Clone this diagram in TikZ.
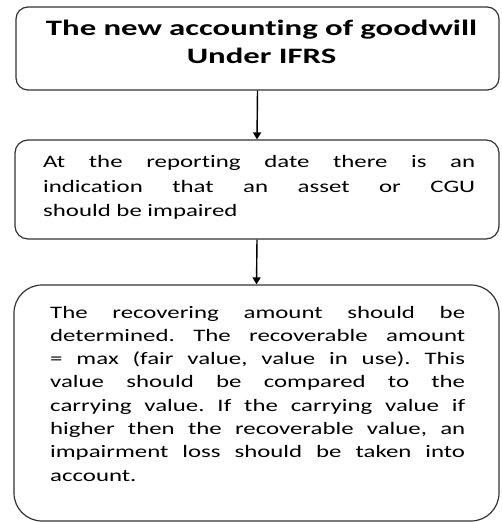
\documentclass[tikz,border=0pt]{standalone}
\usepackage{fontspec}
\newfontfamily\titlefont[FakeStretch=1.49, Ligatures=NoCommon]{Carlito}
\newfontfamily\bodyfont[FakeStretch=1.42, Ligatures=NoCommon]{Carlito}
\usetikzlibrary{arrows.meta}
\begin{document}
\frenchspacing
\begin{tikzpicture}[x=1pt,y=-1pt,
  box/.style={draw=black!80, line width=1.2pt, inner sep=0pt},
  txt/.style={inner sep=0pt, anchor=base west, align=justify},
  link/.style={draw=black, line width=1.4pt, -{Triangle[width=8pt,length=7pt]}}
]
\useasboundingbox (0,0) rectangle (502,522);
\node[box, rounded corners=12pt, minimum width=483pt, minimum height=83pt] (b1) at (257.5,48.5) {};
\node[box, rounded corners=13pt, minimum width=484pt, minimum height=99pt] (b2) at (257,189.5) {};
\node[box, rounded corners=28pt, minimum width=485pt, minimum height=236pt] (b3) at (256.5,403) {};
\node[inner sep=0pt, anchor=base, text width=470pt, align=center,
  font=\titlefont\bfseries\fontsize{22}{28.5}\selectfont] (t1) at (261.5,35)
  {The new accounting of goodwill\\Under IFRS};
\node[txt, text width=432pt, font=\bodyfont\fontsize{17.5}{24.5}\selectfont] (t2) at (43,167.5)
  {At the reporting date there is an\linebreak indication that an asset or CGU\linebreak should be impaired};
\node[txt, text width=415pt, font=\bodyfont\fontsize{17.5}{23.3}\selectfont] (t3) at (50,318)
  {The recovering amount should be\linebreak determined. The recoverable amount\linebreak = max (fair value, value in use). This\linebreak value should be compared to the\linebreak carrying value. If the carrying value if\linebreak higher then the recoverable value, an\linebreak impairment loss should be taken into\linebreak account.};
\draw[link] (b1.south) -- (b2.north);
\draw[link] (b2.south) -- (b3.north);
\end{tikzpicture}
\end{document}
